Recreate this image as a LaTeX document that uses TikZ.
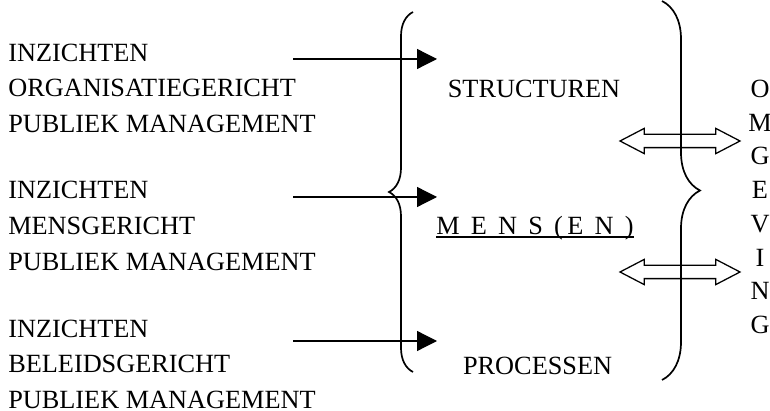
\documentclass[tikz,border=0pt]{standalone}
\usepackage{fontspec}
\setmainfont{Liberation Serif}
\newfontfamily\spacedfont[LetterSpace=17.5]{Liberation Serif}
\usetikzlibrary{arrows.meta,shapes.arrows,decorations.pathreplacing}

\tikzset{
    insight/.style = {anchor = west, align = left, inner sep = 0pt, font = \fontsize{18.7}{25.4}\selectfont},
    topic/.style = {anchor = base, inner sep = 0pt, font = \fontsize{18.7}{25.4}\selectfont},
    feed/.style = {-{Triangle[length = 0.5cm, width = 0.5cm]}, line width = 0.9pt},
    curly/.style = {decorate, line width = 1.2pt},
    exchange/.style = {draw, double arrow, line width = 0.9pt, inner xsep = 0pt, inner ysep = 0.15cm,
        minimum height = 3cm,
        double arrow head extend = 0.15cm, double arrow tip angle = 55}
}

\begin{document}
\begin{tikzpicture}
    \useasboundingbox (0,0) rectangle (19.25,10.275);

    %Inzichten
    \node [insight] (org)at(0.2,8.07){INZICHTEN\\ORGANISATIEGERICHT\\PUBLIEK MANAGEMENT};
    \node [insight] (mens)at(0.2,4.625){INZICHTEN\\MENSGERICHT\\PUBLIEK MANAGEMENT};
    \node [insight] (bel)at(0.2,1.17){INZICHTEN\\BELEIDSGERICHT\\PUBLIEK MANAGEMENT};

    %Structuren, mensen, processen
    \node [topic] (str)at(13.35,7.83){STRUCTUREN};
    \node [topic, font = \fontsize{18.7}{25.4}\spacedfont] (men)at(13.375,4.4){M E N S (E N )};
    \node [topic] (pro)at(13.44,0.9){PROCESSEN};
    \draw [line width = 0.9pt]([yshift = -0.05cm]men.base west)--([yshift = -0.05cm]men.base east);

    %Omgeving
    \node [align = center, inner sep = 0pt, font = \fontsize{18.7}{24}\selectfont]
    (omg)at(19.0,5.1){O\\M\\G\\E\\V\\I\\N\\G};

    %Braces
    \coordinate (lbb) at (10.325,0.975);
    \coordinate (lbt) at (10.325,9.975);
    \coordinate (rbt) at (16.55,10.25);
    \coordinate (rbb) at (16.55,0.775);
    \draw [curly, decoration = {brace, amplitude = 0.6cm}](lbb)--(lbt);
    \draw [curly, decoration = {brace, amplitude = 0.95cm}](rbt)--(rbb);

    %Arrows
    \coordinate (in1) at (7.325,8.8);
    \coordinate (to1) at (10.925,8.8);
    \coordinate (in2) at (7.325,5.35);
    \coordinate (to2) at (10.925,5.35);
    \coordinate (in3) at (7.325,1.75);
    \coordinate (to3) at (10.925,1.75);
    \draw [feed](in1)--(to1);
    \draw [feed](in2)--(to2);
    \draw [feed](in3)--(to3);

    %Wisselwerking
    \node [exchange] (ex1)at(17.0,6.75){};
    \node [exchange] (ex2)at(17.0,3.475){};

\end{tikzpicture}
\end{document}
